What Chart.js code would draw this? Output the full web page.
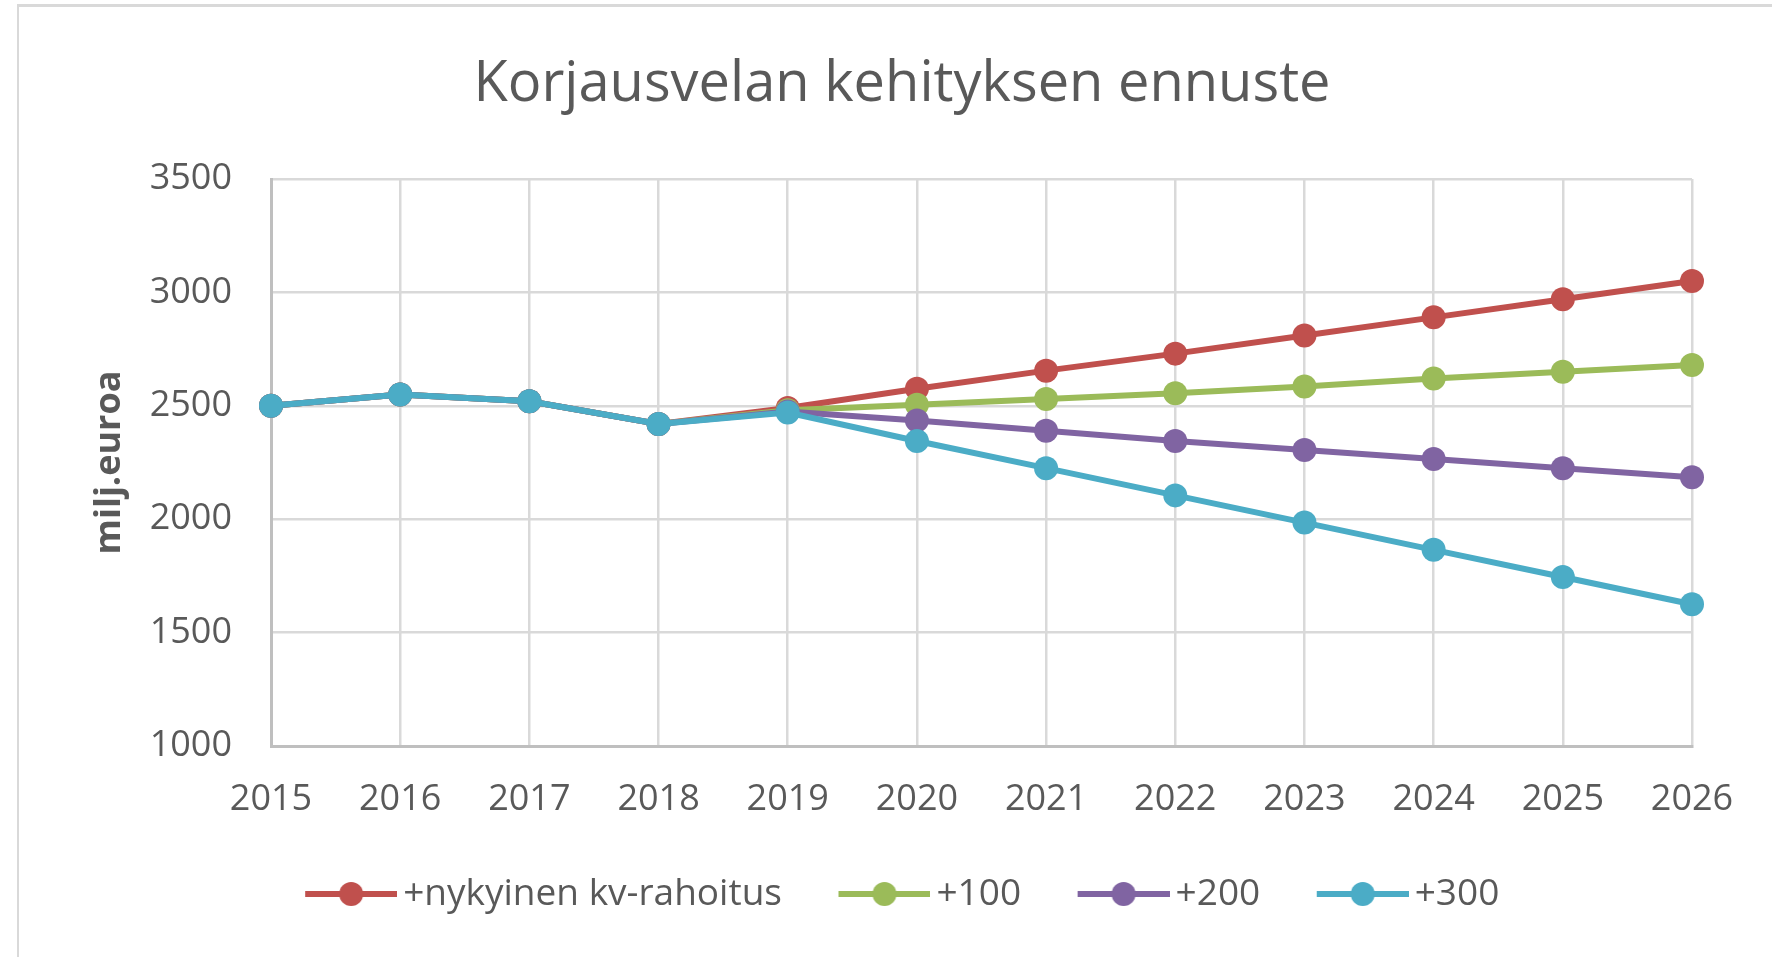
<!DOCTYPE html>
<html>
<head>
<meta charset="utf-8">
<title>Korjausvelan kehityksen ennuste</title>
<script src="https://cdn.jsdelivr.net/npm/chart.js@4/dist/chart.umd.min.js"></script>
<style>
    html, body { margin: 0; padding: 0; background: #fff; overflow: hidden; }
    #frame {
        position: absolute; left: 17px; top: 4px; width: 2000px; height: 2000px;
        border-top: 3px solid #d9d9d9; border-left: 2px solid #d9d9d9;
    }
    #wrap { position: absolute; left: 0; top: 0; width: 1772px; height: 957px; }
</style>
</head>
<body>
<div id="frame"></div>
<div id="wrap"><canvas id="chart"></canvas></div>
<script>
// data
const years = ['2015', '2016', '2017', '2018', '2019', '2020', '2021', '2022', '2023', '2024', '2025', '2026'];
const nykyinen = [2500, 2550, 2520, 2420, 2490, 2575, 2655, 2730, 2810, 2890, 2970, 3050];
const plus100 = [2500, 2550, 2520, 2420, 2480, 2505, 2530, 2555, 2585, 2620, 2650, 2680];
const plus200 = [2500, 2550, 2520, 2420, 2475, 2435, 2390, 2345, 2305, 2265, 2225, 2185];
const plus300 = [2500, 2550, 2520, 2420, 2470, 2345, 2225, 2105, 1985, 1865, 1745, 1625];
const seriesNames = ['+nykyinen kv-rahoitus', '+100', '+200', '+300'];
const seriesColors = ['#C0504D', '#9BBB59', '#8064A2', '#4BACC6'];
const yMin = 1000, yMax = 3500, yStep = 500;

const textColor = '#595959';
const gridColor = '#d9d9d9';
Chart.defaults.font.family = "'Open Sans', 'Noto Sans', sans-serif";
Chart.defaults.color = textColor;

// legend marker: line with a dot in the middle (content sits on the right of the image)
function makeMarker(color) {
    const c = document.createElement('canvas');
    c.width = 105;
    c.height = 26;
    const g = c.getContext('2d');
    g.strokeStyle = color;
    g.lineWidth = 6;
    g.beginPath();
    g.moveTo(13, 13);
    g.lineTo(105, 13);
    g.stroke();
    g.fillStyle = color;
    g.beginPath();
    g.arc(59, 13, 12, 0, Math.PI * 2);
    g.fill();
    return c;
}
const markers = seriesColors.map(makeMarker);

const allSeries = [nykyinen, plus100, plus200, plus300];
const datasets = allSeries.map((values, i) => ({
    label: seriesNames[i],
    data: values,
    borderColor: seriesColors[i],
    backgroundColor: seriesColors[i],
    borderWidth: 6,
    pointRadius: 12,
    pointHoverRadius: 12,
    pointBorderWidth: 0,
    tension: 0,
    order: allSeries.length - i
}));

new Chart(document.getElementById('chart'), {
    type: 'line',
    data: { labels: years, datasets: datasets },
    options: {
        responsive: true,
        maintainAspectRatio: false,
        animation: false,
        layout: { padding: { left: 32, right: 0, top: 0, bottom: 34.5 } },
        plugins: {
            title: {
                display: true,
                text: 'Korjausvelan kehityksen ennuste',
                color: textColor,
                font: { size: 56, weight: 'normal' },
                padding: { top: 51.4, bottom: 60.4 }
            },
            legend: {
                position: 'bottom',
                labels: {
                    usePointStyle: true,
                    pointStyleWidth: 80,
                    padding: 56,
                    color: textColor,
                    font: { size: 37 },
                    sort: (a, b) => a.datasetIndex - b.datasetIndex,
                    generateLabels: (chart) => {
                        const items = Chart.defaults.plugins.legend.labels.generateLabels(chart);
                        items.forEach(it => { it.pointStyle = markers[it.datasetIndex]; });
                        return items;
                    }
                }
            },
            tooltip: { enabled: false }
        },
        scales: {
            x: {
                offset: false,
                grid: { color: gridColor, lineWidth: 2.5, drawTicks: false },
                border: { color: '#bfbfbf', width: 3 },
                ticks: { padding: 32.4, font: { size: 36 }, color: textColor, maxRotation: 0 },
                afterFit: (scale) => { scale.height = 73.5; }
            },
            y: {
                min: yMin,
                max: yMax,
                grid: { color: gridColor, lineWidth: 2.5, drawTicks: false },
                border: { color: '#bfbfbf', width: 3 },
                ticks: {
                    stepSize: yStep,
                    padding: 39,
                    font: { size: 36 },
                    color: textColor,
                    callback: (value) => String(value)
                },
                title: {
                    display: true,
                    text: 'milj.euroa',
                    color: textColor,
                    font: { size: 36, weight: 'bold' },
                    padding: { top: 56, bottom: 0 }
                },
                afterFit: (scale) => { scale.width = 239; }
            },
            // empty right-hand axis that only reserves space
            spacer: {
                type: 'linear',
                position: 'right',
                grid: { display: false },
                border: { display: false },
                ticks: { display: false },
                afterFit: (scale) => { scale.width = 80; }
            }
        }
    }
});
</script>
</body>
</html>
